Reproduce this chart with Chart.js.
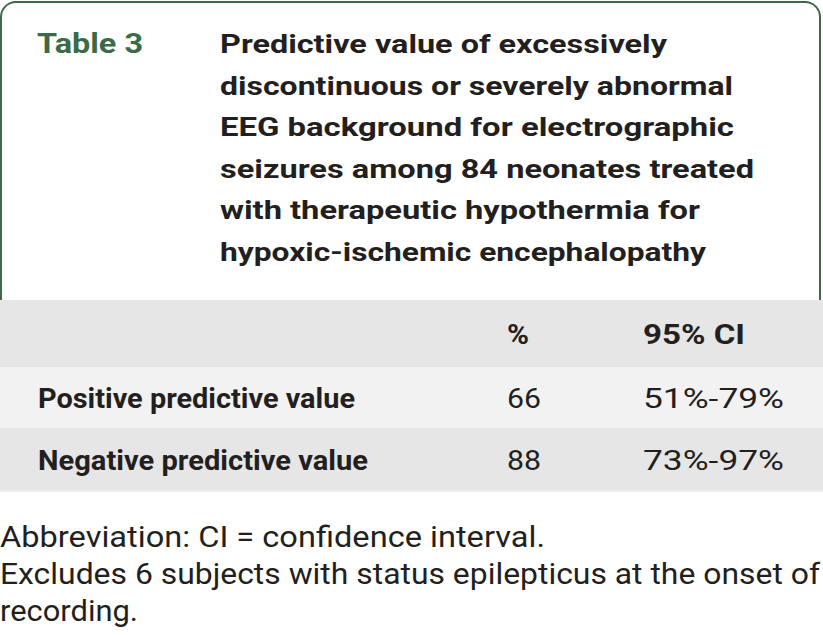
<!DOCTYPE html>
<html>
<head>
<meta charset="utf-8">
<script src="https://cdn.jsdelivr.net/npm/chart.js@4"></script>
<style>
  html, body { margin:0; padding:0; background:#fff; }
  body { width:823px; height:635px; position:relative; overflow:hidden;
         font-family:"Roboto","Liberation Sans",sans-serif; color:#231f20; }
  #box { position:absolute; left:0; top:1px; width:817px; height:300px;
         border:2.5px solid #3b6b46; border-bottom:none; border-radius:16px 16px 0 0; box-sizing:content-box; }
  .band { position:absolute; left:0; width:823px; }
  .t { position:absolute; white-space:nowrap; line-height:1; transform-origin:0 0; }
  #chartwrap { position:absolute; left:0; top:0; width:1px; height:1px; opacity:0; }
</style>
</head>
<body>
<div id="box"></div>
<div class="band" style="top:300px;height:67px;background:#e6e6e6"></div>
<div class="band" style="top:367px;height:61px;background:#f2f2f2"></div>
<div class="band" style="top:428px;height:62px;background:#e6e6e6"></div>
<div class="band" style="top:490px;height:2px;background:#efefef"></div>
<div id="texts"></div>
<div id="chartwrap"><canvas id="c"></canvas></div>
<script>
// ---- data ----
const tableLabel = "Table 3";
const titleLines = [
  "Predictive value of excessively",
  "discontinuous or severely abnormal",
  "EEG background for electrographic",
  "seizures among 84 neonates treated",
  "with therapeutic hypothermia for",
  "hypoxic-ischemic encephalopathy"
];
const columnHeaders = ["%", "95% CI"];
const rowLabels = ["Positive predictive value", "Negative predictive value"];
const percentValues = [66, 88];
const ciLow = [51, 73];
const ciHigh = [79, 97];
const footnoteLines = [
  "Abbreviation: CI = confidence interval.",
  "Excludes 6 subjects with status epilepticus at the onset of",
  "recording."
];

// ---- layout (styles, not data) ----
const TITLE_X = 220, TITLE_BASE = 53, TITLE_STEP = 41.5;
const titleWidths = [447, 513, 514, 534, 480, 486];
const ROW_BASE = [345, 409, 471];
const COL_X = [38, 507, 643];
const rowLabelWidths = [317, 330];
const FOOT_BASE = 547, FOOT_STEP = 37;
const footWidths = [545, 820, 138];

const host = document.getElementById('texts');
function put(text, x, baseline, size, weight, color, targetW) {
  const el = document.createElement('span');
  el.className = 't';
  el.textContent = text;
  el.style.fontSize = size + 'px';
  el.style.fontWeight = weight;
  el.style.color = color;
  el.style.left = x + 'px';
  el.style.top = (baseline - 0.8415 * size) + 'px';
  host.appendChild(el);
  if (targetW) {
    const w = el.getBoundingClientRect().width;
    el.style.transform = 'scaleX(' + (targetW / w) + ')';
  }
  return el;
}

put(tableLabel, 37, 54, 27, 700, '#3b6b46', 106);
titleLines.forEach((l, i) => put(l, TITLE_X, TITLE_BASE + i * TITLE_STEP, 26, 700, '#231f20', titleWidths[i]));

put(columnHeaders[0], COL_X[1], ROW_BASE[0], 28, 700, '#231f20', 22);
put(columnHeaders[1], COL_X[2], ROW_BASE[0], 28, 700, '#231f20', 102);
rowLabels.forEach((lab, i) => {
  put(lab, COL_X[0], ROW_BASE[i + 1], 27, 700, '#231f20', rowLabelWidths[i]);
  put(String(percentValues[i]), COL_X[1], ROW_BASE[i + 1], 28, 400, '#231f20', 34);
  put(ciLow[i] + '%-' + ciHigh[i] + '%', COL_X[2], ROW_BASE[i + 1], 28, 400, '#231f20', 141);
});

footnoteLines.forEach((l, i) => put(l, 0, FOOT_BASE + i * FOOT_STEP, 29, 400, '#231f20', footWidths[i]));

new Chart(document.getElementById('c'), {
  type: 'bar',
  data: { labels: rowLabels, datasets: [{ label: '%', data: percentValues }] },
  options: { animation:false, responsive:false, plugins:{legend:{display:false}} }
});
</script>
</body>
</html>
